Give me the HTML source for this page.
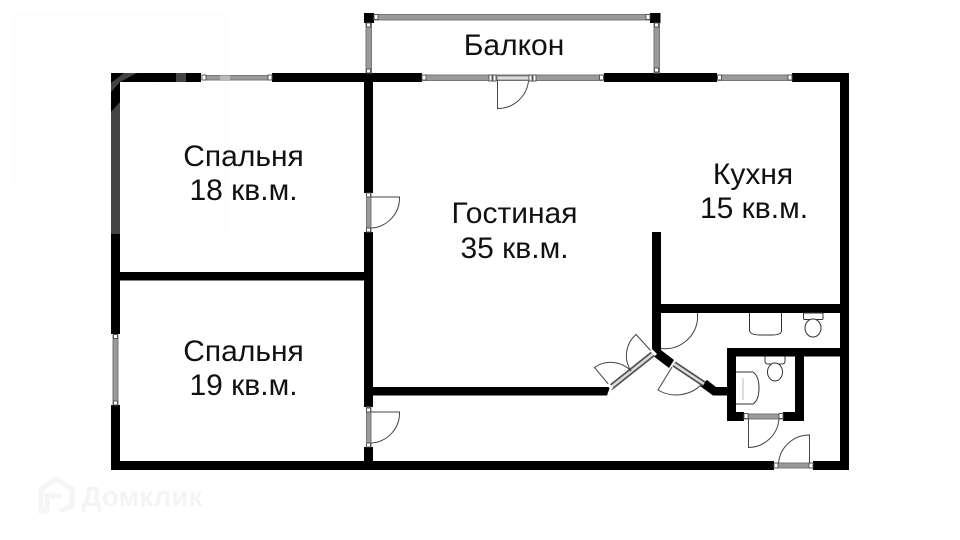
<!DOCTYPE html>
<html lang="ru">
<head>
<meta charset="utf-8">
<title>План квартиры</title>
<style>
html,body{margin:0;padding:0;background:#fff;width:960px;height:540px;overflow:hidden}
svg{display:block}
text{font-family:"Liberation Sans",sans-serif;font-size:30px;fill:#111;text-anchor:middle}
.w{fill:#000}
.g{fill:#9a9a9a;stroke:#777;stroke-width:1}
.c{fill:#fff;stroke:#555;stroke-width:1}
.a{fill:none;stroke:#444;stroke-width:1}
.f{fill:#fff;stroke:#333;stroke-width:1}
</style>
</head>
<body>
<svg width="960" height="540" viewBox="0 0 960 540" xmlns="http://www.w3.org/2000/svg">
<rect width="960" height="540" fill="#fff"/>

<!-- faint watermark -->
<path d="M14 14H226V232M14 14V180L175 70" fill="none" stroke="#fdfdfd" stroke-width="3"/>
<path d="M41 489L56 479L72 489V506L60 511M47 511H41V489M47 511V496H62" fill="none" stroke="#f5f5f5" stroke-width="5"/>
<text x="142" y="506" style="font-size:28px;font-weight:bold;fill:#f4f4f4">Домклик</text>

<!-- outer walls -->
<rect class="w" x="111" y="73" width="90" height="9"/>
<rect class="w" x="272" y="73" width="150" height="9"/>
<rect class="w" x="604" y="73" width="113" height="9"/>
<rect class="w" x="792" y="73" width="57" height="9"/>
<rect class="w" x="840" y="73" width="9" height="397"/>
<rect class="w" x="111" y="73" width="9" height="261"/>
<rect class="w" x="111" y="405" width="9" height="65"/>
<rect class="w" x="111" y="461" width="663" height="9"/>
<rect class="w" x="813" y="461" width="36" height="9"/>

<!-- watermark-tinted wall pieces -->
<rect x="176" y="73" width="10" height="9" fill="#444"/>
<polygon points="111,112 120,102 120,234 111,234" fill="#444"/>
<polygon points="111,83 124,73 137,73 120,82 111,92" fill="#444"/>

<!-- interior walls -->
<rect class="w" x="364" y="73" width="9" height="120"/>
<rect class="w" x="364" y="232" width="9" height="175"/>
<rect class="w" x="364" y="447" width="9" height="23"/>
<rect class="w" x="120" y="272" width="244" height="8.5"/>
<polygon class="w" points="373,387 610,387 607,395.5 373,395.5"/>
<rect class="w" x="652" y="232" width="9" height="118"/>
<rect class="w" x="661" y="304" width="179" height="9"/>
<rect class="w" x="727" y="348" width="113" height="8.5"/>
<rect class="w" x="727" y="348" width="9" height="73"/>
<rect class="w" x="795" y="348" width="9" height="73"/>
<rect class="w" x="727" y="412" width="17" height="9"/>
<rect class="w" x="783" y="412" width="21" height="9"/>
<polygon class="w" points="652,350 661,350 674,360 669,368 652,355"/>
<polygon class="w" points="707,380 716,387 727,387 727,395.5 713,395.5 700,386"/>

<!-- balcony frame -->
<rect class="g" x="374" y="14.5" width="276" height="5.5"/>
<rect class="g" x="366" y="23" width="5.5" height="50"/>
<rect class="g" x="654" y="23" width="5.5" height="50"/>
<rect class="w" x="364" y="13" width="10" height="10"/>
<rect class="w" x="650" y="13" width="10.5" height="10"/>
<rect class="c" x="374" y="14.5" width="4" height="5"/>
<rect class="c" x="646" y="14.5" width="4" height="5"/>
<rect class="c" x="366.5" y="23" width="4" height="4"/>
<rect class="c" x="366.5" y="69" width="4" height="4"/>
<rect class="c" x="654.5" y="23" width="4" height="4"/>
<rect class="c" x="654.5" y="68" width="4" height="4"/>

<!-- top windows -->
<rect class="g" x="202" y="75.5" width="69" height="4.5"/>
<rect x="220" y="75.5" width="10" height="4.5" fill="#bbb"/>
<rect class="c" x="202" y="75" width="4" height="5"/><rect class="c" x="268" y="75" width="4" height="5"/>
<rect class="g" x="422" y="75" width="181" height="5.5"/>
<rect class="c" x="422" y="75" width="4" height="5"/><rect class="c" x="599.5" y="75" width="4" height="5"/>
<rect x="497" y="76" width="32" height="4" fill="#ddd" stroke="#666" stroke-width=".7"/>
<rect class="c" x="489" y="75" width="3" height="6"/><rect class="c" x="493" y="75" width="3" height="6"/>
<rect class="c" x="529" y="75" width="3" height="6"/><rect class="c" x="533" y="75" width="3" height="6"/>
<path class="a" d="M497.5 80V108.5A31 31 0 0 0 528.5 81"/>
<rect class="g" x="718" y="75" width="74" height="5.5"/>
<rect class="c" x="717.5" y="75" width="4" height="5"/><rect class="c" x="788" y="75" width="4" height="5"/>

<!-- left window -->
<rect class="g" x="113" y="335" width="5" height="70"/>
<rect class="c" x="113.5" y="334.5" width="4" height="4"/><rect class="c" x="113.5" y="401" width="4" height="4"/>

<!-- bedroom doors -->
<rect class="g" x="366.5" y="193" width="4.5" height="39"/>
<rect class="c" x="366.5" y="193" width="4" height="4"/><rect class="c" x="366.5" y="228" width="4" height="4"/>
<path class="a" d="M371 197H399.5A30 30 0 0 1 371 228"/>
<rect class="g" x="366.5" y="407" width="4.5" height="40"/>
<rect class="c" x="366.5" y="408" width="4" height="4"/><rect class="c" x="366.5" y="443" width="4" height="4"/>
<path class="a" d="M371 412H399.5A30 30 0 0 1 371 443"/>

<!-- double door -->
<path d="M610 388L654 353" stroke="#555" stroke-width="6" fill="none"/>
<path d="M610 388L654 353" stroke="#ddd" stroke-width="2.5" fill="none"/>
<path class="a" d="M610 386L594.5 367.5A28 28 0 0 1 631 371"/>
<path class="a" d="M651.5 351.5L636 334.5A28 28 0 0 0 631 371"/>
<path d="M612 389L608 384M656 355L651 350" stroke="#fff" stroke-width="3" fill="none"/>

<!-- diagonal door -->
<path d="M674 364L704 384" stroke="#555" stroke-width="6" fill="none"/>
<path d="M674 364L704 384" stroke="#ddd" stroke-width="2.5" fill="none"/>
<path class="a" d="M672 367L658 390A36 36 0 0 0 702 384"/>

<!-- bath door -->
<path class="a" d="M697.5 313V320A33 33 0 0 1 661 348.5"/>

<!-- sink + toilet, bath -->
<path class="f" d="M749.5 313V331Q751 335 760 335H772Q781 335 781.5 331V313"/>
<rect class="f" x="803.5" y="313" width="19.5" height="6.5" rx="1"/>
<ellipse class="f" cx="813" cy="328" rx="8" ry="9"/>

<!-- WC -->
<path class="f" d="M765 356.5V361Q765 364 768 364H782Q785 364 785 361V356.5"/>
<ellipse class="f" cx="775" cy="372" rx="7.5" ry="9"/>
<path class="f" d="M736 372H753Q759 376 759 388Q759 400 753 404H736"/>
<path d="M743 378V400" stroke="#bbb" fill="none"/>

<!-- WC door -->
<rect class="g" x="744" y="414" width="39" height="5"/>
<rect class="c" x="744" y="413.5" width="4" height="5"/><rect class="c" x="779" y="413.5" width="4" height="5"/>
<path class="a" d="M748.5 419V447.5A31 31 0 0 0 779 419"/>

<!-- entry door -->
<rect class="g" x="774" y="463" width="39" height="5"/>
<rect class="c" x="774" y="463" width="4" height="5"/><rect class="c" x="809" y="463" width="4" height="5"/>
<path class="a" d="M809.5 463V435A31 31 0 0 0 778.5 463"/>

<!-- labels -->
<text x="514" y="55">Балкон</text>
<text x="243.5" y="166">Спальня</text>
<text x="243.5" y="200">18 кв.м.</text>
<text x="243.5" y="361">Спальня</text>
<text x="243.5" y="395">19 кв.м.</text>
<text x="514.5" y="223">Гостиная</text>
<text x="514.5" y="258">35 кв.м.</text>
<text x="753" y="184">Кухня</text>
<text x="754" y="218">15 кв.м.</text>
</svg>
</body>
</html>
